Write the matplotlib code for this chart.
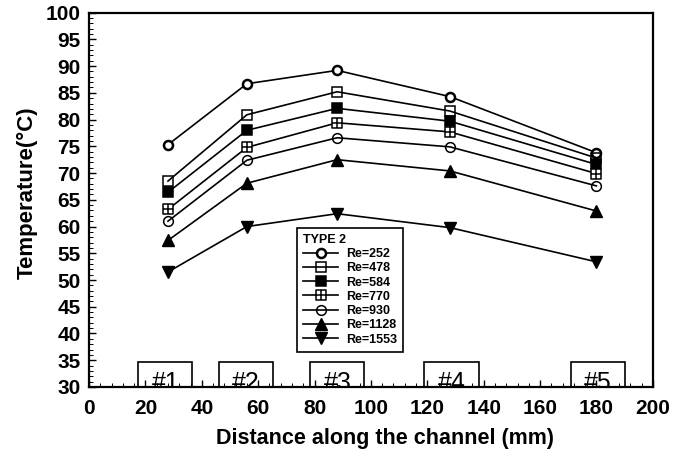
import matplotlib
matplotlib.use("Agg")
import matplotlib.pyplot as plt
from matplotlib.path import Path
from matplotlib.patches import Rectangle
from matplotlib.ticker import MultipleLocator

plt.rcParams['font.family'] = ['Liberation Sans', 'DejaVu Sans']

# Data
x_pos = [28, 56, 88, 128, 180]
re_labels = ["Re=252", "Re=478", "Re=584", "Re=770", "Re=930", "Re=1128", "Re=1553"]
t_252 = [75.3, 86.7, 89.2, 84.3, 73.8]
t_478 = [68.5, 80.9, 85.2, 81.6, 72.8]
t_584 = [66.4, 78.0, 82.1, 79.7, 71.6]
t_770 = [63.2, 74.8, 79.4, 77.7, 69.9]
t_930 = [61.0, 72.4, 76.6, 74.9, 67.6]
t_1128 = [57.4, 68.1, 72.5, 70.4, 62.9]
t_1553 = [51.5, 60.0, 62.4, 59.8, 53.4]
series = [t_252, t_478, t_584, t_770, t_930, t_1128, t_1553]

box_labels = ["#1", "#2", "#3", "#4", "#5"]
box_left = [17.5, 46, 78.5, 119, 171]
box_width = 19.2
box_top = 34.6

# square-with-cross marker
sq_cross = Path(
    [(-1, -1), (1, -1), (1, 1), (-1, 1), (-1, -1),
     (0, -1), (0, 1), (-1, 0), (1, 0)],
    [Path.MOVETO, Path.LINETO, Path.LINETO, Path.LINETO, Path.CLOSEPOLY,
     Path.MOVETO, Path.LINETO, Path.MOVETO, Path.LINETO])

styles = [
    dict(marker='o', mfc='white', mew=1.8, ms=6.5),
    dict(marker='s', mfc='none', mew=1.1, ms=7),
    dict(marker='s', mfc='black', mew=1.1, ms=7),
    dict(marker=sq_cross, mfc='white', mew=1.1, ms=7),
    dict(marker='o', mfc='none', mew=1.1, ms=7),
    dict(marker='^', mfc='black', mew=1.0, ms=8),
    dict(marker='v', mfc='black', mew=1.0, ms=8),
]

fig = plt.figure(figsize=(6.85, 4.51), dpi=100)
ax = fig.add_axes([0.130, 0.142, 0.823, 0.830])

for vals, lab, st in zip(series, re_labels, styles):
    ax.plot(x_pos, vals, color='black', lw=1.2, mec='black', label=lab, zorder=3, **st)

ax.set_xlim(0, 200)
ax.set_ylim(30, 100)
ax.xaxis.set_major_locator(MultipleLocator(20))
ax.xaxis.set_minor_locator(MultipleLocator(4))
ax.yaxis.set_major_locator(MultipleLocator(5))
ax.yaxis.set_minor_locator(MultipleLocator(1))
ax.tick_params(which='major', direction='in', length=5, width=1.0, labelsize=15)
ax.tick_params(which='minor', direction='in', length=3, width=0.7)
ax.tick_params(axis='x', which='major', pad=9)
ax.tick_params(axis='y', which='major', pad=6)
for lbl in ax.get_xticklabels() + ax.get_yticklabels():
    lbl.set_fontweight('bold')
for sp in ax.spines.values():
    sp.set_linewidth(1.6)

ax.set_xlabel("Distance along the channel (mm)", fontsize=15.5, fontweight='bold', labelpad=7)
ax.set_ylabel("Temperature(°C)", fontsize=16, fontweight='bold', labelpad=6)
ax.xaxis.label.set_x(0.525)
ax.yaxis.label.set_y(0.52)

for lab, left in zip(box_labels, box_left):
    ax.add_patch(Rectangle((left, 29), box_width, box_top - 29, facecolor='none',
                           edgecolor='black', lw=1.2, zorder=2, clip_on=True))
    ax.text(left + box_width / 2, 29.5, lab, ha='center', va='baseline', fontsize=18,
            zorder=2, clip_on=True)

leg = ax.legend(loc='upper left', bbox_to_anchor=(73.8, 59.8), bbox_transform=ax.transData,
                title="TYPE 2", fancybox=False, edgecolor='black', framealpha=1,
                prop={'weight': 'bold', 'size': 9}, handlelength=2.8,
                labelspacing=0.18, borderpad=0.5, handletextpad=0.6, borderaxespad=0)
leg.get_title().set_fontweight('bold')
leg.get_title().set_fontsize(9)
leg._legend_box.align = "left"
leg.get_frame().set_linewidth(1.2)
leg.set_zorder(5)

fig.savefig("out.png", dpi=100)
